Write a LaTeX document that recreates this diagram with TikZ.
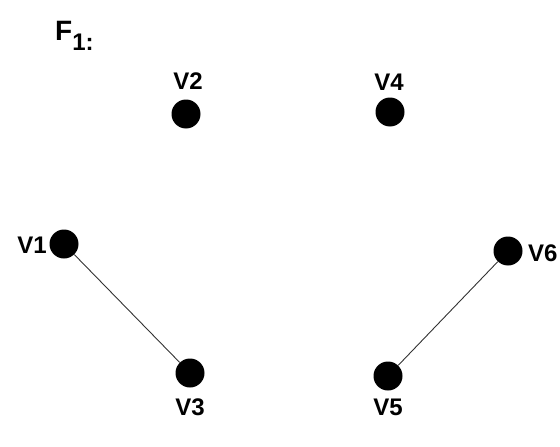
\documentclass[tikz,border=0pt]{standalone}
\usepackage{fontspec}
\setmainfont{Liberation Sans}
\begin{document}
\begin{tikzpicture}[x=1pt,y=-1pt,
  vertex/.style={circle,fill=black,inner sep=0pt,minimum size=29pt},
  vlabel/.style={inner sep=0pt,font=\fontsize{24}{26}\selectfont\bfseries},
  edge/.style={draw=black!80,line width=0.9pt}]
  \useasboundingbox (0,0) rectangle (560,447);
  % title
  \node[inner sep=0pt,anchor=base west] (title) at (55,40)
    {\bfseries\fontsize{28}{30}\selectfont F\raisebox{-10pt}{\fontsize{24}{26}\selectfont 1:}};
  % vertices
  \node[vertex] (v1) at (64,244) {};
  \node[vertex] (v2) at (186,114) {};
  \node[vertex] (v3) at (190,373) {};
  \node[vertex] (v4) at (390,112) {};
  \node[vertex] (v5) at (388,376) {};
  \node[vertex] (v6) at (508,251) {};
  % vertex labels
  \node[vlabel,anchor=base] (l1) at (32,253) {V1};
  \node[vlabel,anchor=base] (l2) at (188,89) {V2};
  \node[vlabel,anchor=base] (l3) at (190,415) {V3};
  \node[vlabel,anchor=base] (l4) at (389,90) {V4};
  \node[vlabel,anchor=base] (l5) at (388,415) {V5};
  \node[vlabel,anchor=base west] (l6) at (528,261) {V6};
  % edges
  \draw[edge] (v1) -- (v3);
  \draw[edge] (v6) -- (v5);
\end{tikzpicture}
\end{document}
